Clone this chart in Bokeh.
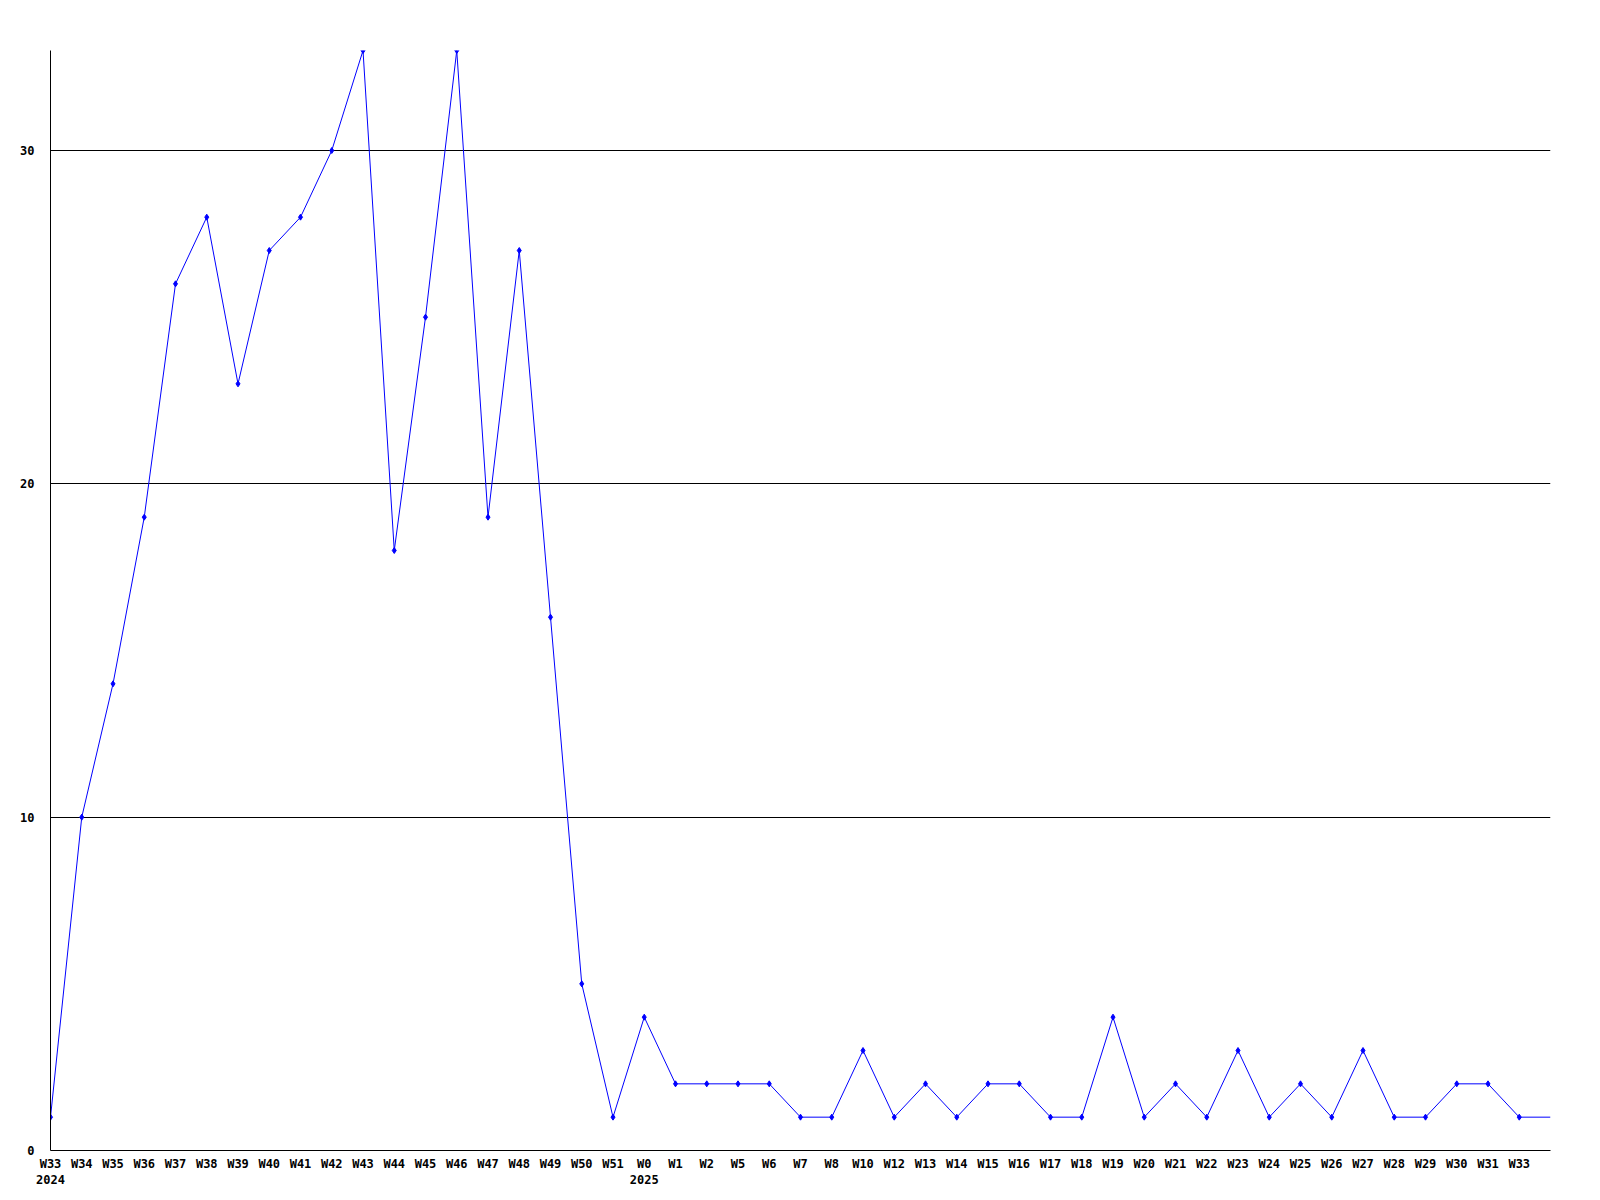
from bokeh.plotting import figure
from bokeh.models import FixedTicker, Range1d
from bokeh.embed import file_html
from bokeh.resources import INLINE

weeks = ["W33\n2024", "W34", "W35", "W36", "W37", "W38", "W39", "W40", "W41", "W42",
         "W43", "W44", "W45", "W46", "W47", "W48", "W49", "W50", "W51", "W0\n2025",
         "W1", "W2", "W5", "W6", "W7", "W8", "W10", "W12", "W13", "W14",
         "W15", "W16", "W17", "W18", "W19", "W20", "W21", "W22", "W23", "W24",
         "W25", "W26", "W27", "W28", "W29", "W30", "W31", "W33"]
counts = [1, 10, 14, 19, 26, 28, 23, 27, 28, 30,
          33, 18, 25, 33, 19, 27, 16, 5, 1, 4,
          2, 2, 2, 2, 1, 1, 3, 1, 2, 1,
          2, 2, 1, 1, 4, 1, 2, 1, 3, 1,
          2, 1, 3, 1, 1, 2, 2, 1]
# trailing (current, unlabeled) week
tail_count = 1
y_ticks = [0, 10, 20, 30]

xs = list(range(len(weeks)))
line_x = xs + [len(weeks)]
line_y = counts + [tail_count]

FONT = "DejaVu Sans Mono"

p = figure(width=1592, height=1192, output_backend="svg", toolbar_location=None,
           x_range=Range1d(0, len(weeks)), y_range=Range1d(0, 33),
           min_border_left=50, min_border_right=42, min_border_top=50, min_border_bottom=42)
p.outline_line_color = None
p.background_fill_color = "white"
p.border_fill_color = "white"

p.line(line_x, line_y, line_color="#0000ff", line_width=1)
p.scatter(xs, counts, marker="diamond", size=6, color="#0000ff")

p.xaxis.ticker = FixedTicker(ticks=xs)
p.xaxis.major_label_overrides = {i: w for i, w in enumerate(weeks)}
p.yaxis.ticker = FixedTicker(ticks=y_ticks)
for ax in (p.xaxis, p.yaxis):
    ax.axis_line_color = "black"
    ax.axis_line_width = 1
    ax.major_tick_line_color = None
    ax.minor_tick_line_color = None
    ax.major_label_text_font = FONT
    ax.major_label_text_font_style = "bold"
    ax.major_label_text_font_size = "12px"
    ax.major_label_text_color = "black"
p.xaxis.major_label_standoff = 0
p.yaxis.major_label_standoff = 10

p.xgrid.grid_line_color = None
p.ygrid.grid_line_color = "black"
p.ygrid.grid_line_width = 1
p.ygrid.ticker = FixedTicker(ticks=[10, 20, 30])

open("out.html", "w").write(file_html(p, INLINE))
